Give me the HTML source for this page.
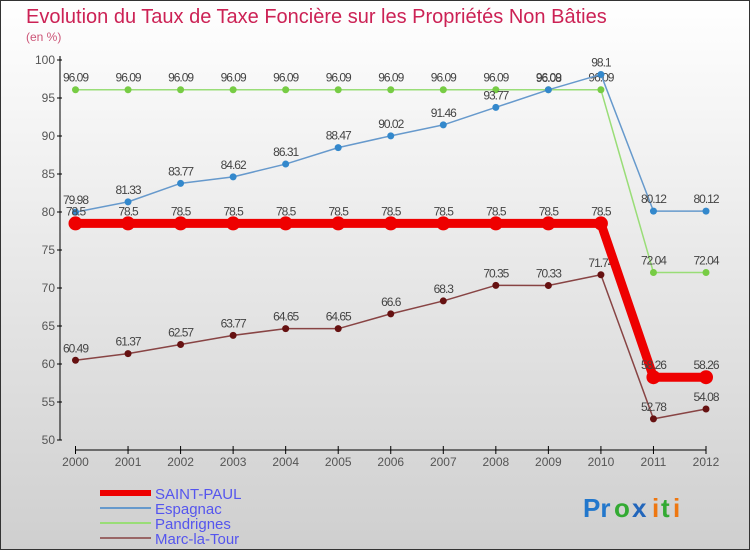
<!DOCTYPE html>
<html><head><meta charset="utf-8"><style>
body{margin:0;}
#c{width:750px;height:550px;position:relative;overflow:hidden;font-family:"Liberation Sans",sans-serif;}
</style></head><body>
<div id="c">
<svg id="s" width="750" height="550" xmlns="http://www.w3.org/2000/svg">
<defs><linearGradient id="bg" x1="0" y1="0" x2="0" y2="1"><stop offset="0" stop-color="#ffffff"/><stop offset="1" stop-color="#cfcfcf"/></linearGradient></defs>
<rect x="0.5" y="0.5" width="749" height="549" fill="url(#bg)" stroke="#333"/>
<text x="26" y="23" font-size="20" fill="#cc2255">Evolution du Taux de Taxe Foncière sur les Propriétés Non Bâties</text>
<text x="26" y="41" font-size="12" fill="#cc5577">(en %)</text>
<g id="axes"></g><g id="series"></g><g id="legend"></g>
<g font-size="26" font-weight="bold">
<text x="583" y="517" fill="#2277cc">Pr</text><text x="614" y="517" fill="#33aa33">o</text><text x="632" y="517" fill="#2266bb">x</text><text x="652" y="517" fill="#ee7711">i</text><text x="661" y="517" fill="#33aa33">t</text><text x="673" y="517" fill="#ee7711">i</text>
</g>
</svg>
</div>
<script>
const years=[2000,2001,2002,2003,2004,2005,2006,2007,2008,2009,2010,2011,2012];
const saintPaul=[78.5,78.5,78.5,78.5,78.5,78.5,78.5,78.5,78.5,78.5,78.5,58.26,58.26];
const espagnac=[79.98,81.33,83.77,84.62,86.31,88.47,90.02,91.46,93.77,96.08,98.1,80.12,80.12];
const pandrignes=[96.09,96.09,96.09,96.09,96.09,96.09,96.09,96.09,96.09,96.09,96.09,72.04,72.04];
const marc=[60.49,61.37,62.57,63.77,64.65,64.65,66.6,68.3,70.35,70.33,71.74,52.78,54.08];
const yTicks=[50,55,60,65,70,75,80,85,90,95,100];
const NS='http://www.w3.org/2000/svg';
const X=i=>75.5+i*(706-75.5)/(years.length-1);
const Y=v=>440-(v-50)*380/50;
function mk(p,t,a){const e=document.createElementNS(NS,t);for(const k in a)e.setAttribute(k,a[k]);p.appendChild(e);return e;}
const ax=document.getElementById('axes');
let l=mk(ax,'line',{x1:60,y1:56,x2:60,y2:440,stroke:'#000'});


yTicks.forEach(v=>{mk(ax,'line',{x1:57,x2:62,y1:Y(v),y2:Y(v),stroke:'#000'});
const t=mk(ax,'text',{x:55,y:Y(v)+4,'font-size':12,'text-anchor':'end',fill:'#555'});t.textContent=v;

});
l=mk(ax,'line',{x1:75,y1:450,x2:706,y2:450,stroke:'#000'});


years.forEach((y,i)=>{mk(ax,'line',{x1:X(i),x2:X(i),y1:446,y2:454,stroke:'#000'});
const t=mk(ax,'text',{x:X(i),y:466,'font-size':12,'text-anchor':'middle',fill:'#555'});t.textContent=y;

});
const sg=document.getElementById('series');
function draw(vals,color,w,r,dot,name,lo){
const g=mk(sg,'g',{});


mk(g,'polyline',{points:vals.map((v,i)=>X(i)+','+Y(v)).join(' '),fill:'none',stroke:color,'stroke-width':w,'stroke-linejoin':'round'});
vals.forEach((v,i)=>{const c=mk(g,'circle',{cx:X(i),cy:Y(v),r:r,fill:dot});


const t=mk(g,'text',{x:X(i),y:Y(v)-8,'font-size':12,'text-anchor':'middle',fill:'#444','letter-spacing':'-1'});t.textContent=String(v);

});
}
draw(pandrignes,'#99dd77',1.5,3.5,'#77cc44','pandrignes');
draw(espagnac,'#6699cc',1.5,3.5,'#3388cc','espagnac');
draw(marc,'#884444',1.5,3.5,'#661111','marc-la-tour');
draw(saintPaul,'#ee0000',9,7,'#ee0000','saint-paul');
const lg=document.getElementById('legend');
const items=[['SAINT-PAUL','#ee0000',6],['Espagnac','#6699cc',2],['Pandrignes','#99dd77',2],['Marc-la-Tour','#996666',2]];
items.forEach((it,i)=>{const y=493+i*15;
const g=mk(lg,'g',{});


mk(g,'line',{x1:100,x2:151,y1:y,y2:y,stroke:it[1],'stroke-width':it[2]});
const t=mk(g,'text',{x:155,y:y+6,'font-size':15,fill:'#5555ee'});t.textContent=it[0];});
</script>
</body></html>
